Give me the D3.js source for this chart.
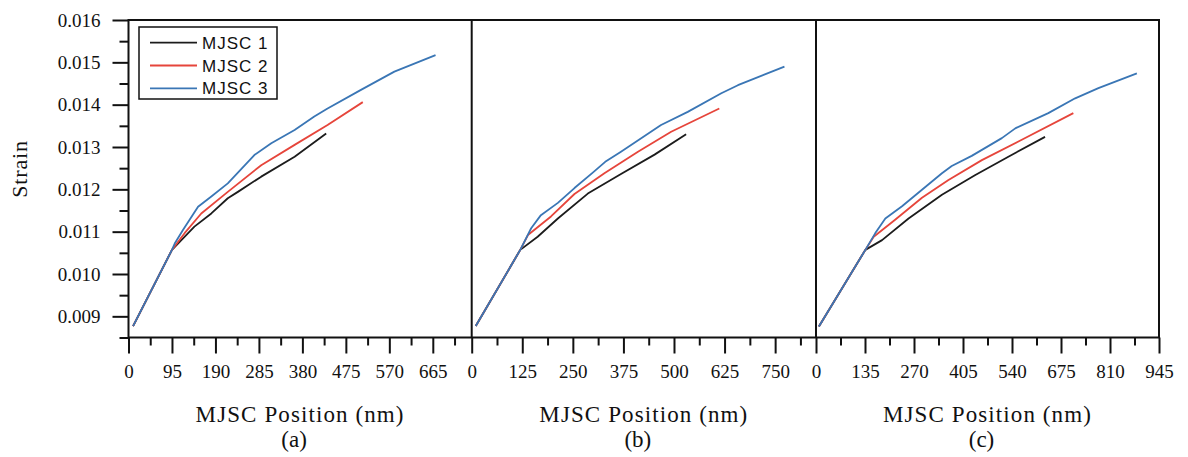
<!DOCTYPE html>
<html><head><meta charset="utf-8">
<script src="https://cdn.jsdelivr.net/npm/d3@7"></script>
<style>body{margin:0;background:#fff}</style>
</head><body>
<svg id="c" width="1188" height="457"></svg>
<script>
// ---------- data ----------
const seriesNames = ["MJSC 1", "MJSC 2", "MJSC 3"];
const panelLabels = ["(a)", "(b)", "(c)"];
const xTitle = "MJSC Position (nm)";
const yTitle = "Strain";
const xDomainMax = [750, 851, 945];
const xMajorTicks = [
  [0, 95, 190, 285, 380, 475, 570, 665],
  [0, 125, 250, 375, 500, 625, 750],
  [0, 135, 270, 405, 540, 675, 810, 945]
];
const yMajorTicks = [0.009, 0.010, 0.011, 0.012, 0.013, 0.014, 0.015, 0.016];

// panel (a)
const a_mjsc1 = [[10,0.00877],[95,0.01057],[144,0.01112],[181,0.01143],[217,0.01179],[239,0.01194],[290,0.01230],[363,0.01277],[432,0.01332]];
const a_mjsc2 = [[10,0.00877],[95,0.01057],[123,0.01097],[159,0.01143],[217,0.01194],[290,0.01257],[363,0.01305],[435,0.01352],[512,0.01406]];
const a_mjsc3 = [[10,0.00877],[95,0.01057],[101,0.01072],[119,0.01104],[152,0.01159],[181,0.01183],[217,0.01214],[275,0.01281],[312,0.01309],[363,0.01340],[406,0.01372],[435,0.01391],[508,0.01435],[581,0.01478],[671,0.01517]];
// panel (b)
const b_mjsc1 = [[10,0.00877],[120,0.01057],[163,0.01088],[213,0.01131],[287,0.01190],[369,0.01236],[452,0.01282],[530,0.01330]];
const b_mjsc2 = [[10,0.00877],[120,0.01057],[139,0.01092],[196,0.01136],[254,0.01189],[328,0.01238],[411,0.01289],[493,0.01336],[612,0.01391]];
const b_mjsc3 = [[10,0.00877],[120,0.01057],[147,0.01108],[171,0.01139],[213,0.01168],[254,0.01203],[300,0.01240],[330,0.01265],[369,0.01289],[468,0.01352],[534,0.01383],[617,0.01427],[658,0.01446],[773,0.01490]];
// panel (c)
const c_mjsc1 = [[8,0.00876],[136,0.01057],[182,0.01080],[255,0.01131],[347,0.01187],[439,0.01234],[530,0.01277],[631,0.01324]];
const c_mjsc2 = [[8,0.00876],[136,0.01057],[159,0.01088],[218,0.01128],[292,0.01180],[365,0.01222],[457,0.01269],[567,0.01317],[709,0.01380]];
const c_mjsc3 = [[8,0.00876],[136,0.01057],[163,0.01096],[191,0.01131],[237,0.01160],[292,0.01199],[347,0.01238],[374,0.01255],[429,0.01279],[512,0.01321],[549,0.01344],[640,0.01380],[714,0.01415],[778,0.01439],[884,0.01474]];

const panelData = [[a_mjsc1, a_mjsc2, a_mjsc3], [b_mjsc1, b_mjsc2, b_mjsc3], [c_mjsc1, c_mjsc2, c_mjsc3]];

// ---------- layout / style ----------
const colors = ["#1c1c1c", "#e6453b", "#3a76b5"];
const plotTop = 20, plotBottom = 337.5;
const edges = [128.5, 471.7, 816, 1159];
const serif = "'Liberation Serif','Times New Roman',serif";
const sans = "'Liberation Sans',Arial,sans-serif";

const svg = d3.select("#c");
const y = d3.scaleLinear().domain([0.0085, 0.016]).range([plotBottom, plotTop]);

const yMinor = d3.range(0.0085, 0.016, 0.001);

// y axis (major + minor)
const gy = svg.append("g").attr("transform", `translate(${edges[0]},0)`);
gy.call(d3.axisLeft(y).tickValues(yMajorTicks).tickSize(16).tickPadding(12).tickFormat(d3.format(".3f")));
gy.append("g").call(d3.axisLeft(y).tickValues(yMinor).tickSize(9).tickFormat(""));
gy.selectAll(".domain").remove();
gy.selectAll("line").attr("stroke", "#111").attr("stroke-width", 2);
gy.selectAll("text").attr("font-family", serif).attr("font-size", 19).attr("fill", "#111");

panelData.forEach((series, i) => {
  const x = d3.scaleLinear().domain([0, xDomainMax[i]]).range([edges[i], edges[i + 1]]);
  const step = xMajorTicks[i][1];
  const minor = d3.range(step / 2, xDomainMax[i], step);
  const g = svg.append("g").attr("transform", `translate(0,${plotBottom})`);
  g.call(d3.axisBottom(x).tickValues(xMajorTicks[i]).tickSize(16).tickPadding(11).tickFormat(d3.format("d")));
  g.append("g").call(d3.axisBottom(x).tickValues(minor).tickSize(8).tickFormat(""));
  g.selectAll(".domain").remove();
  g.selectAll("line").attr("stroke", "#111").attr("stroke-width", 2);
  g.selectAll("text").attr("font-family", serif).attr("font-size", 19).attr("fill", "#111");

  const line = d3.line().x(d => x(d[0])).y(d => y(d[1]));
  series.forEach((pts, k) => {
    svg.append("path").datum(pts).attr("d", line)
      .attr("fill", "none").attr("stroke", colors[k]).attr("stroke-width", 1.8)
      .attr("stroke-linejoin", "round");
  });

  const cx = (edges[i] + edges[i + 1]) / 2;
  svg.append("text").attr("x", cx).attr("y", 421.5).attr("text-anchor", "middle")
    .attr("font-family", serif).attr("font-size", 23).attr("letter-spacing", 1.1).attr("fill", "#111")
    .text(xTitle);
  svg.append("text").attr("x", cx - 6).attr("y", 447).attr("text-anchor", "middle")
    .attr("font-family", serif).attr("font-size", 23).attr("fill", "#111")
    .text(panelLabels[i]);
});

// frame
const frame = svg.append("g").attr("fill", "none").attr("stroke", "#111").attr("stroke-width", 2);
frame.append("rect").attr("x", edges[0]).attr("y", plotTop).attr("width", edges[3] - edges[0]).attr("height", plotBottom - plotTop);
frame.append("line").attr("x1", edges[1]).attr("x2", edges[1]).attr("y1", plotTop).attr("y2", plotBottom);
frame.append("line").attr("x1", edges[2]).attr("x2", edges[2]).attr("y1", plotTop).attr("y2", plotBottom);

// y title
svg.append("text").attr("transform", "translate(27,169) rotate(-90)").attr("text-anchor", "middle")
  .attr("font-family", serif).attr("font-size", 22).attr("letter-spacing", 0.8).attr("fill", "#111")
  .text(yTitle);

// legend
const lg = svg.append("g");
lg.append("rect").attr("x", 139).attr("y", 27).attr("width", 138).attr("height", 72)
  .attr("fill", "#fff").attr("stroke", "#111").attr("stroke-width", 1.5);
seriesNames.forEach((n, k) => {
  const yy = 42.7 + k * 22.8;
  lg.append("line").attr("x1", 150).attr("x2", 197).attr("y1", yy).attr("y2", yy)
    .attr("stroke", colors[k]).attr("stroke-width", 1.8);
  lg.append("text").attr("x", 202).attr("y", yy).attr("dy", "0.36em")
    .attr("font-family", sans).attr("font-size", 17).attr("letter-spacing", 1).attr("fill", "#111")
    .text(n);
});
</script>
</body></html>
